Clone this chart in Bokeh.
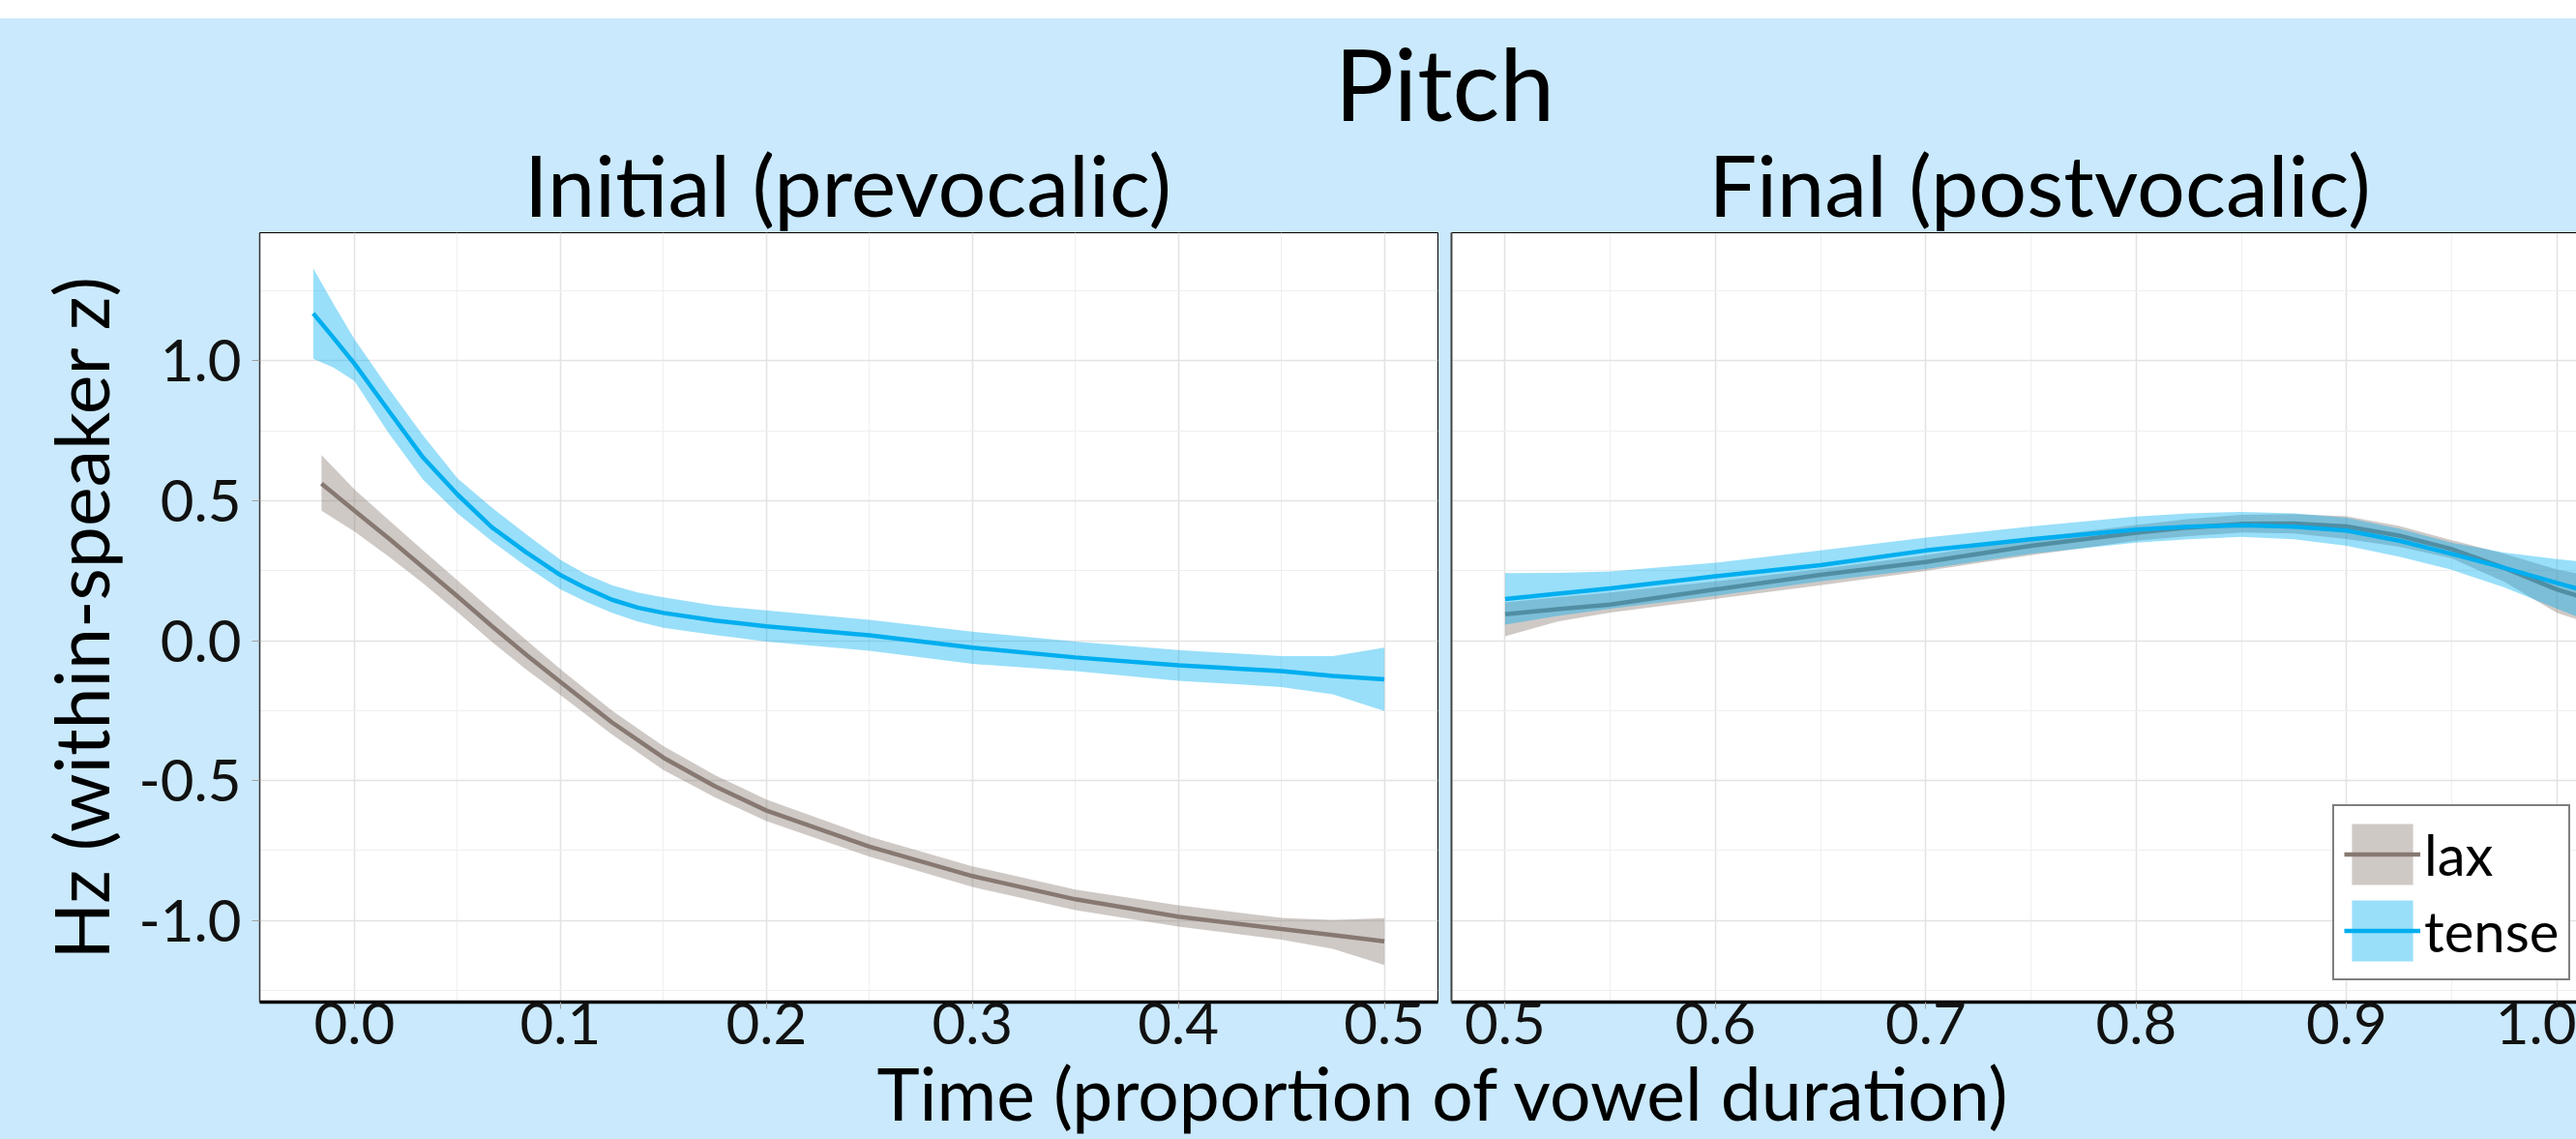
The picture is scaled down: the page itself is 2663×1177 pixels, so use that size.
from bokeh.plotting import figure
from bokeh.layouts import column, row
from bokeh.models import (Range1d, FixedTicker, PrintfTickFormatter, Legend, LegendItem,
                          Label, LinearAxis, Spacer)
from bokeh.embed import file_html
from bokeh.resources import INLINE

# ---------------- data ----------------
title_text = "Pitch"
facet_labels = ["Initial (prevocalic)", "Final (postvocalic)"]
x_label = "Time (proportion of vowel duration)"
y_label = "Hz (within-speaker z)"
groups = ["lax", "tense"]

# Initial (prevocalic) panel
init_tense_t = [-0.02, -0.01, 0.0, 0.0167, 0.0333, 0.05, 0.0667, 0.0833, 0.1, 0.1125, 0.125, 0.1375,
                0.15, 0.175, 0.2, 0.25, 0.3, 0.35, 0.4, 0.45, 0.475, 0.5]
init_tense_fit = [1.169, 1.08, 0.989, 0.82, 0.654, 0.522, 0.405, 0.316, 0.234, 0.187, 0.146, 0.118,
                  0.099, 0.072, 0.051, 0.019, -0.025, -0.060, -0.088, -0.109, -0.126, -0.138]
init_tense_hi = [1.330, 1.20, 1.077, 0.90, 0.733, 0.58, 0.475, 0.38, 0.289, 0.237, 0.198, 0.172,
                 0.155, 0.125, 0.108, 0.074, 0.032, -0.003, -0.034, -0.055, -0.055, -0.025]
init_tense_lo = [1.007, 0.975, 0.927, 0.74, 0.575, 0.455, 0.355, 0.265, 0.183, 0.138, 0.099, 0.068,
                 0.046, 0.02, -0.003, -0.036, -0.083, -0.109, -0.143, -0.166, -0.192, -0.251]

init_lax_t = [-0.016, 0.0, 0.0167, 0.0333, 0.05, 0.0667, 0.0833, 0.1, 0.125, 0.15, 0.175, 0.2,
              0.25, 0.3, 0.35, 0.4, 0.45, 0.475, 0.5]
init_lax_fit = [0.561, 0.464, 0.365, 0.262, 0.158, 0.052, -0.05, -0.148, -0.292, -0.418, -0.52, -0.607,
                -0.736, -0.841, -0.924, -0.986, -1.030, -1.052, -1.074]
init_lax_hi = [0.663, 0.54, 0.43, 0.322, 0.215, 0.108, 0.003, -0.102, -0.250, -0.377, -0.48, -0.568,
               -0.700, -0.806, -0.889, -0.945, -0.990, -0.998, -0.991]
init_lax_lo = [0.464, 0.39, 0.30, 0.205, 0.102, -0.004, -0.103, -0.194, -0.335, -0.462, -0.56, -0.645,
               -0.772, -0.880, -0.963, -1.021, -1.068, -1.101, -1.159]

# Final (postvocalic) panel
fin_t = [0.5, 0.525, 0.55, 0.6, 0.65, 0.7, 0.75, 0.8, 0.825, 0.85, 0.875, 0.9, 0.925, 0.95,
         0.975, 1.0, 1.01]
fin_tense_fit = [0.149, 0.168, 0.187, 0.230, 0.270, 0.322, 0.362, 0.397, 0.407, 0.412, 0.407, 0.393,
                 0.357, 0.310, 0.260, 0.206, 0.185]
fin_tense_hi = [0.241, 0.242, 0.247, 0.278, 0.322, 0.368, 0.408, 0.443, 0.455, 0.460, 0.455, 0.439,
                0.400, 0.350, 0.315, 0.291, 0.284]
fin_tense_lo = [0.057, 0.088, 0.114, 0.160, 0.212, 0.256, 0.310, 0.350, 0.362, 0.371, 0.362, 0.339,
                0.300, 0.253, 0.190, 0.114, 0.085]
fin_lax_fit = [0.094, 0.112, 0.129, 0.183, 0.235, 0.281, 0.339, 0.385, 0.404, 0.417, 0.418, 0.408,
               0.375, 0.327, 0.260, 0.183, 0.160]
fin_lax_hi = [0.137, 0.155, 0.172, 0.212, 0.256, 0.305, 0.367, 0.413, 0.435, 0.449, 0.452, 0.444,
              0.410, 0.359, 0.310, 0.254, 0.240]
fin_lax_lo = [0.016, 0.068, 0.100, 0.149, 0.198, 0.249, 0.305, 0.357, 0.373, 0.386, 0.383, 0.363,
              0.335, 0.294, 0.210, 0.099, 0.075]

x_ticks_left = [0.0, 0.1, 0.2, 0.3, 0.4, 0.5]
x_minor_left = [0.05, 0.15, 0.25, 0.35, 0.45]
x_ticks_right = [0.5, 0.6, 0.7, 0.8, 0.9, 1.0]
x_minor_right = [0.55, 0.65, 0.75, 0.85, 0.95]
y_ticks = [-1.0, -0.5, 0.0, 0.5, 1.0]
y_minor = [-1.25, -0.75, -0.25, 0.25, 0.75, 1.25]

# ---------------- style ----------------
BLUE = "#CAE9FC"
TENSE = "#00AEEF"
LAX = "#877971"
FONT = "Lato"
W = 2663
W_LEFT = 1493
W_RIGHT = W - W_LEFT
TOP_GAP = 19
HEAD_H = 227          # page y 19 .. 246
PANEL_H = 870         # page y 238 .. 1108 (overlaps header by 8)
PANEL_OVERLAP = 8
FOOT_H = 110          # page y 1067 .. 1177 (overlaps panels by 41, transparent)
FOOT_OVERLAP = 41
YR = (-1.291, 1.457)
BASE_FIX = 0.415      # baseline correction (em) for Label placement


def base_fig(width, height, **kw):
    p = figure(width=width, height=height, toolbar_location=None, output_backend="svg", **kw)
    p.background_fill_color = "white"
    p.border_fill_color = BLUE
    return p


def style_grid(p, xt, xm):
    p.xgrid.ticker = FixedTicker(ticks=xt, minor_ticks=xm)
    p.ygrid.ticker = FixedTicker(ticks=y_ticks, minor_ticks=y_minor)
    for g in (p.xgrid, p.ygrid):
        g.grid_line_color = "#E3E3E3"
        g.grid_line_width = 1.6
        g.minor_grid_line_color = "#EFEFEF"
        g.minor_grid_line_width = 1


def style_xaxis(p, xt, xm):
    ax = p.xaxis[0]
    ax.ticker = FixedTicker(ticks=xt, minor_ticks=xm)
    ax.formatter = PrintfTickFormatter(format="%.1f")
    ax.axis_line_color = "black"
    ax.axis_line_width = 3.5
    ax.major_tick_out = 7
    ax.major_tick_in = 0
    ax.minor_tick_out = 0
    ax.minor_tick_in = 0
    ax.major_tick_line_color = "#A0A0A0"
    ax.major_label_text_font = FONT
    ax.major_label_text_font_size = "60px"
    ax.major_label_text_color = "#111111"
    ax.major_label_standoff = -7


def draw(p, t_lax, lax_lo, lax_hi, lax_fit, t_tense, tense_lo, tense_hi, tense_fit):
    r1 = p.varea(x=t_lax, y1=lax_lo, y2=lax_hi, fill_color=LAX, fill_alpha=0.4)
    r2 = p.line(x=t_lax, y=lax_fit, line_color=LAX, line_width=4.5)
    r3 = p.varea(x=t_tense, y1=tense_lo, y2=tense_hi, fill_color=TENSE, fill_alpha=0.4)
    r4 = p.line(x=t_tense, y=tense_fit, line_color=TENSE, line_width=4.5)
    return r1, r2, r3, r4


def text_label(p, x, y_base, text, size):
    p.add_layout(Label(x=x, y=y_base + BASE_FIX * size, x_units="screen", y_units="screen",
                       text=text, text_font=FONT, text_font_size=f"{size}px",
                       text_align="center", text_baseline="alphabetic", text_color="black"))


# ---------------- header ----------------
header = base_fig(W, HEAD_H, x_range=Range1d(0, W), y_range=Range1d(0, HEAD_H),
                  x_axis_location=None, y_axis_location=None, min_border=0)
header.background_fill_color = BLUE
header.outline_line_color = None
header.grid.visible = False
text_label(header, 1493, 246 - 127.3, title_text, 102)
text_label(header, 876, 246 - 226.0, facet_labels[0], 88)
text_label(header, 2108, 246 - 226.0, facet_labels[1], 88)

# ---------------- left panel ----------------
pl = base_fig(W_LEFT, PANEL_H, x_range=Range1d(-0.046, 0.526), y_range=Range1d(*YR),
              min_border_top=2, min_border_bottom=73, min_border_left=268, min_border_right=7)
pl.outline_line_color = "black"
pl.outline_line_width = 1
style_grid(pl, x_ticks_left, x_minor_left)
style_xaxis(pl, x_ticks_left, x_minor_left)
ya = pl.yaxis[0]
ya.ticker = FixedTicker(ticks=y_ticks, minor_ticks=y_minor)
ya.formatter = PrintfTickFormatter(format="%.1f")
ya.axis_line_color = "#333333"
ya.axis_line_width = 1.5
ya.major_tick_out = 8
ya.major_tick_in = 0
ya.minor_tick_out = 0
ya.minor_tick_in = 0
ya.major_tick_line_color = "#A0A0A0"
ya.major_label_text_font = FONT
ya.major_label_text_font_size = "60px"
ya.major_label_text_color = "#111111"
ya.major_label_standoff = 11
ya.axis_label = y_label
ya.axis_label_text_font = FONT
ya.axis_label_text_font_size = "77px"
ya.axis_label_text_font_style = "normal"
ya.axis_label_text_color = "black"
ya.axis_label_standoff = 11
draw(pl, init_lax_t, init_lax_lo, init_lax_hi, init_lax_fit,
     init_tense_t, init_tense_lo, init_tense_hi, init_tense_fit)

# ---------------- right panel ----------------
pr = base_fig(W_RIGHT, PANEL_H, x_range=Range1d(0.4745, 1.0093), y_range=pl.y_range,
              min_border_top=2, min_border_bottom=73, min_border_left=7, min_border_right=0)
pr.outline_line_color = None
style_grid(pr, x_ticks_right, x_minor_right)
style_xaxis(pr, x_ticks_right, x_minor_right)
yr = pr.yaxis[0]
yr.ticker = FixedTicker(ticks=[])
yr.axis_line_color = "#444444"
yr.axis_line_width = 2
yr.major_tick_out = 0
yr.major_tick_in = 0
yr.minor_tick_out = 0
yr.minor_tick_in = 0
yr.major_label_standoff = 0
top = LinearAxis(ticker=FixedTicker(ticks=[]), axis_line_color="black", axis_line_width=1,
                 major_tick_out=0, major_tick_in=0, minor_tick_out=0, minor_tick_in=0,
                 major_label_standoff=0)
pr.add_layout(top, "above")
rl1, rl2, rt1, rt2 = draw(pr, fin_t, fin_lax_lo, fin_lax_hi, fin_lax_fit,
                          fin_t, fin_tense_lo, fin_tense_hi, fin_tense_fit)

legend = Legend(items=[LegendItem(label=groups[0], renderers=[rl1, rl2]),
                       LegendItem(label=groups[1], renderers=[rt1, rt2])],
                location=(911, 22), orientation="vertical",
                glyph_width=79, glyph_height=79, spacing=-16, padding=10, margin=0,
                label_standoff=4, label_text_font=FONT, label_text_font_size="58px",
                label_text_color="black",
                border_line_color="black", border_line_width=2,
                background_fill_color="white", background_fill_alpha=1.0)
pr.add_layout(legend)
panels = row(pl, pr, margin=(-PANEL_OVERLAP, 0, 0, 0))

# ---------------- footer ----------------
footer = base_fig(W, FOOT_H, x_range=Range1d(0, W), y_range=Range1d(0, FOOT_H),
                  x_axis_location=None, y_axis_location=None, min_border=0,
                  margin=(-FOOT_OVERLAP, 0, 0, 0))
footer.background_fill_alpha = 0
footer.border_fill_alpha = 0
footer.outline_line_color = None
footer.grid.visible = False
text_label(footer, 1492, 1177 - 1160.0, x_label, 75)

inner = column(header, panels, footer, styles={"background-color": BLUE})
layout = column(Spacer(width=W, height=TOP_GAP), inner)

with open("out.html", "w") as f:
    f.write(file_html(layout, INLINE))
